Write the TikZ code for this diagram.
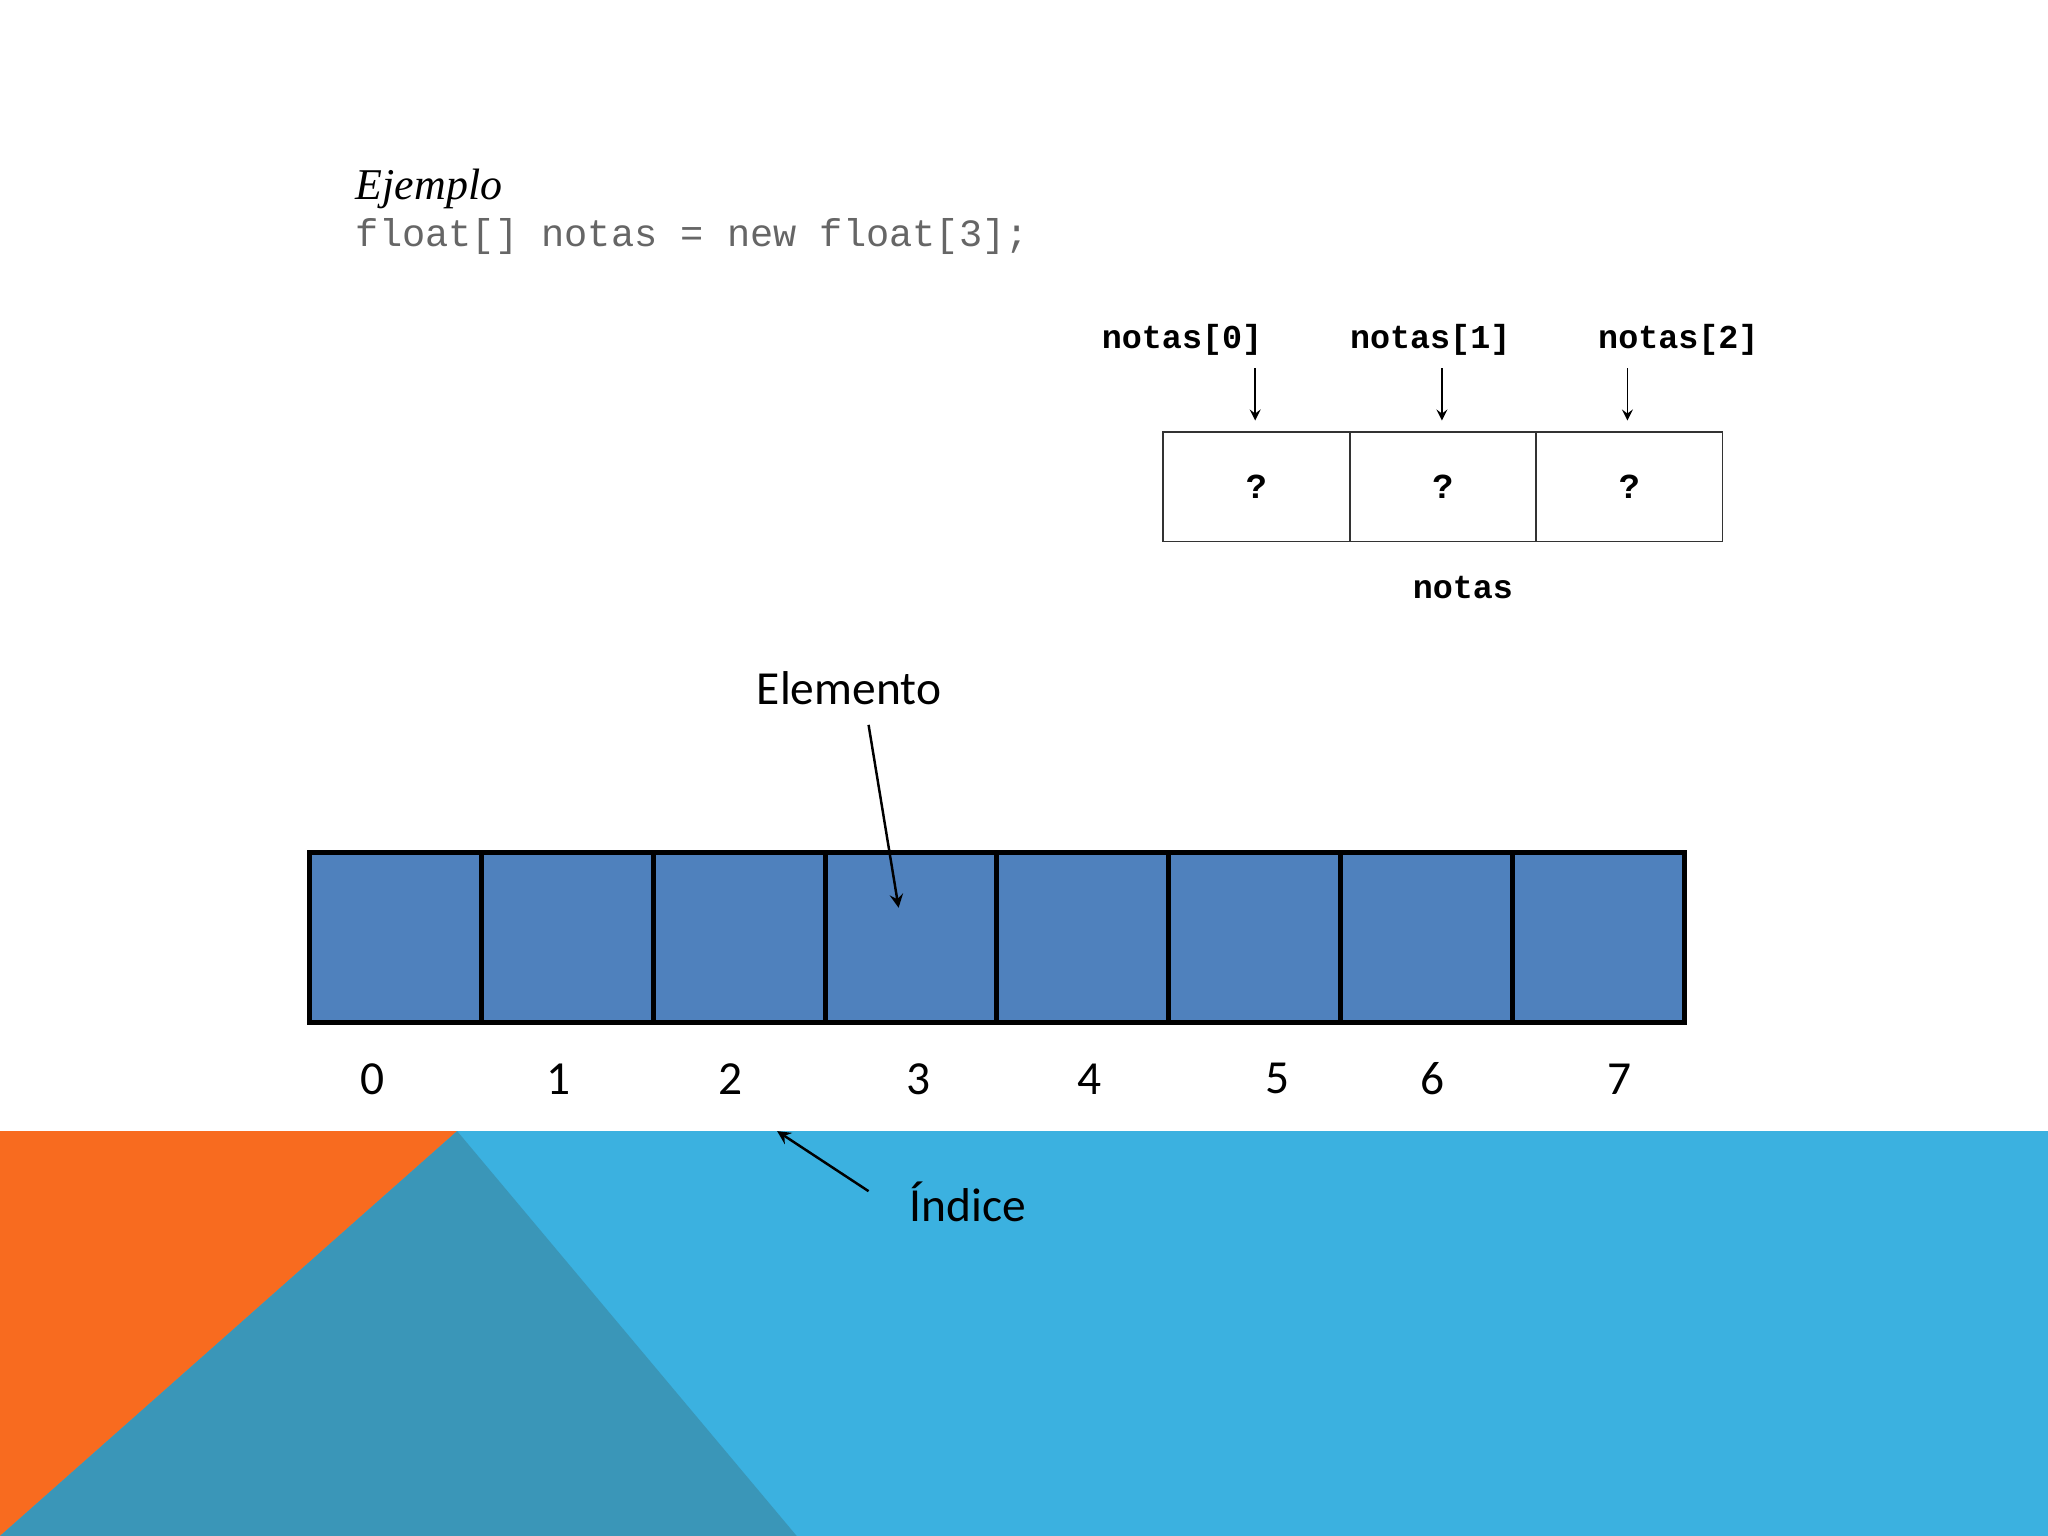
\documentclass[tikz,border=0pt]{standalone}
\usepackage{fontspec}
\setsansfont{Carlito}
\setmainfont{Liberation Serif}
\setmonofont{Liberation Mono}
\begin{document}
\begin{tikzpicture}[x=0.01306cm,y=-0.01306cm,
  cell/.style={draw=black,line width=1.4pt,fill=arrblue,minimum width=131.6*0.01306cm,minimum height=130*0.01306cm,anchor=north west,inner sep=0},
  sbox/.style={draw=black!80,line width=0.5pt,minimum width=142.7*0.01306cm,minimum height=84*0.01306cm,anchor=north west,inner sep=0,font=\ttfamily\bfseries\fontsize{10}{12}\selectfont},
  lab/.style={font=\ttfamily\bfseries\fontsize{9.5}{11}\selectfont},
  big/.style={font=\sffamily\fontsize{13.5}{16}\selectfont},
  thin/.style={->,>=stealth,line width=0.4pt},
  arr/.style={->,>=stealth,line width=0.7pt}]
\definecolor{arrblue}{HTML}{4F81BD}
\definecolor{skyb}{HTML}{3BB1E0}
\definecolor{teal2}{HTML}{3A96B8}
\definecolor{orng}{HTML}{F86B1F}
\useasboundingbox (0,0) rectangle (1568,1176);
\fill[white] (0,0) rectangle (1568,1176);
\fill[skyb] (0,866) rectangle (1568,1176);
\fill[orng] (0,866) -- (350,866) -- (0,1176) -- cycle;
\fill[teal2] (350,866) -- (610,1176) -- (0,1176) -- cycle;
\node[anchor=west,font=\itshape\fontsize{12.5}{14}\selectfont] (ej) at (263,145) {Ejemplo};
\node[anchor=west,text=black!60,font=\ttfamily\fontsize{11}{13}\selectfont] (code) at (263,181) {float[] notas = new float[3];};
\foreach \i/\x in {0/890,1/1032.7,2/1175.4}{
  \node[sbox] (s\i) at (\x,330) {?};
}
\node[lab] (l0) at (905,260) {notas[0]};
\node[lab] (l1) at (1095,260) {notas[1]};
\node[lab] (l2) at (1285,260) {notas[2]};
\coordinate (t0) at (961,322); \coordinate (t1) at (1104,322); \coordinate (t2) at (1246,322);
\draw[thin] (961,282) -- (t0);
\draw[thin] (1104,282) -- (t1);
\draw[thin] (1246,282) -- (t2);
\node[lab] (nt) at (1120,450) {notas};
\foreach \i in {0,...,7}{
  \node[cell] (c\i) at ({235+\i*131.6},651) {};
}
\foreach \i/\x in {0/285,1/428,2/559,3/703,4/834,5/978,6/1097,7/1240}{
  \node[big] (n\i) at (\x,826) {\i};
}
\node[big] (el) at (650,527) {Elemento};
\coordinate (ea) at (688,695);
\draw[arr] (665,555) -- (ea);
\node[big] (ind) at (741,920) {Índice};
\coordinate (ia) at (595,866);
\draw[arr] (665,912) -- (ia);
\end{tikzpicture}
\end{document}
